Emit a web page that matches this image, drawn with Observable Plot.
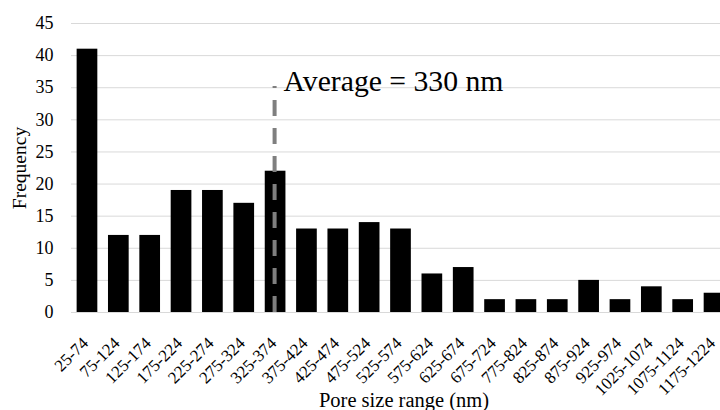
<!DOCTYPE html>
<html>
<head>
<meta charset="utf-8">
<script src="https://cdn.jsdelivr.net/npm/d3@7"></script>
<script src="https://cdn.jsdelivr.net/npm/@observablehq/plot@0.6"></script>
<style>
  html, body { margin: 0; padding: 0; background: #fff; }
  svg, svg text { font-family: "Liberation Serif", "Times New Roman", serif !important; }
</style>
</head>
<body>
<div id="chart"></div>
<script>
const categories = ["25-74", "75-124", "125-174", "175-224", "225-274", "275-324", "325-374",
  "375-424", "425-474", "475-524", "525-574", "575-624", "625-674", "675-724", "775-824",
  "825-874", "875-924", "925-974", "1025-1074", "1075-1124", "1175-1224"];
const frequencies = [41, 12, 12, 19, 19, 17, 22, 13, 13, 14, 13, 6, 7, 2, 2, 2, 5, 2, 4, 2, 3];
const yTicks = [0, 5, 10, 15, 20, 25, 30, 35, 40, 45];
const averageLabel = "Average = 330 nm";
const averageCategory = "325-374";
const averageLineTop = 35.2;
const averageLabelY = 35.9;
const xTitle = "Pore size range (nm)";
const yTitle = "Frequency";

const data = categories.map((c, i) => ({range: c, freq: frequencies[i]}));
const FF = "Liberation Serif";

const chart = Plot.plot({
  width: 720,
  height: 410,
  marginTop: 23,
  marginBottom: 98,
  marginLeft: 71,
  marginRight: 0,
  style: {fontFamily: FF, background: "#fff", color: "#000", overflow: "hidden"},
  x: {domain: categories, range: [71.3, 729.7], paddingInner: 0.34, paddingOuter: 0.17, round: false},
  y: {domain: [0, 45]},
  marks: [
    Plot.ruleY(yTicks, {stroke: "#d9d9d9", strokeWidth: 1}),
    Plot.barY(data, {x: "range", y: "freq", fill: "#000"}),
    Plot.ruleY([0], {stroke: "#d9d9d9", strokeWidth: 1}),
    Plot.ruleX([averageCategory], {y1: 0, y2: averageLineTop, stroke: "#7f7f7f", strokeWidth: 4, strokeDasharray: "16,12", dx: -1}),
    Plot.text([averageLabel], {x: () => averageCategory, y: () => averageLabelY, text: d => d, textAnchor: "start", dx: 8, fontSize: 29.7, fontFamily: FF, fill: "#000"}),
    Plot.axisY({ticks: yTicks, tickSize: 0, tickPadding: 18, fontSize: 18, fontFamily: FF, label: null}),
    Plot.axisX({tickSize: 0, tickPadding: 28, tickRotate: -45, dx: -2, fontSize: 17, fontFamily: FF, label: null}),
    Plot.text([xTitle], {frameAnchor: "bottom", text: d => d, textAnchor: "middle", dx: 8, dy: 94, fontSize: 20.5, fontFamily: FF, fill: "#000"}),
    Plot.text([yTitle], {frameAnchor: "left", text: d => d, textAnchor: "middle", rotate: -90, dx: -52, fontSize: 19.5, fontFamily: FF, fill: "#000"})
  ]
});
document.getElementById("chart").append(chart);
</script>
</body>
</html>
